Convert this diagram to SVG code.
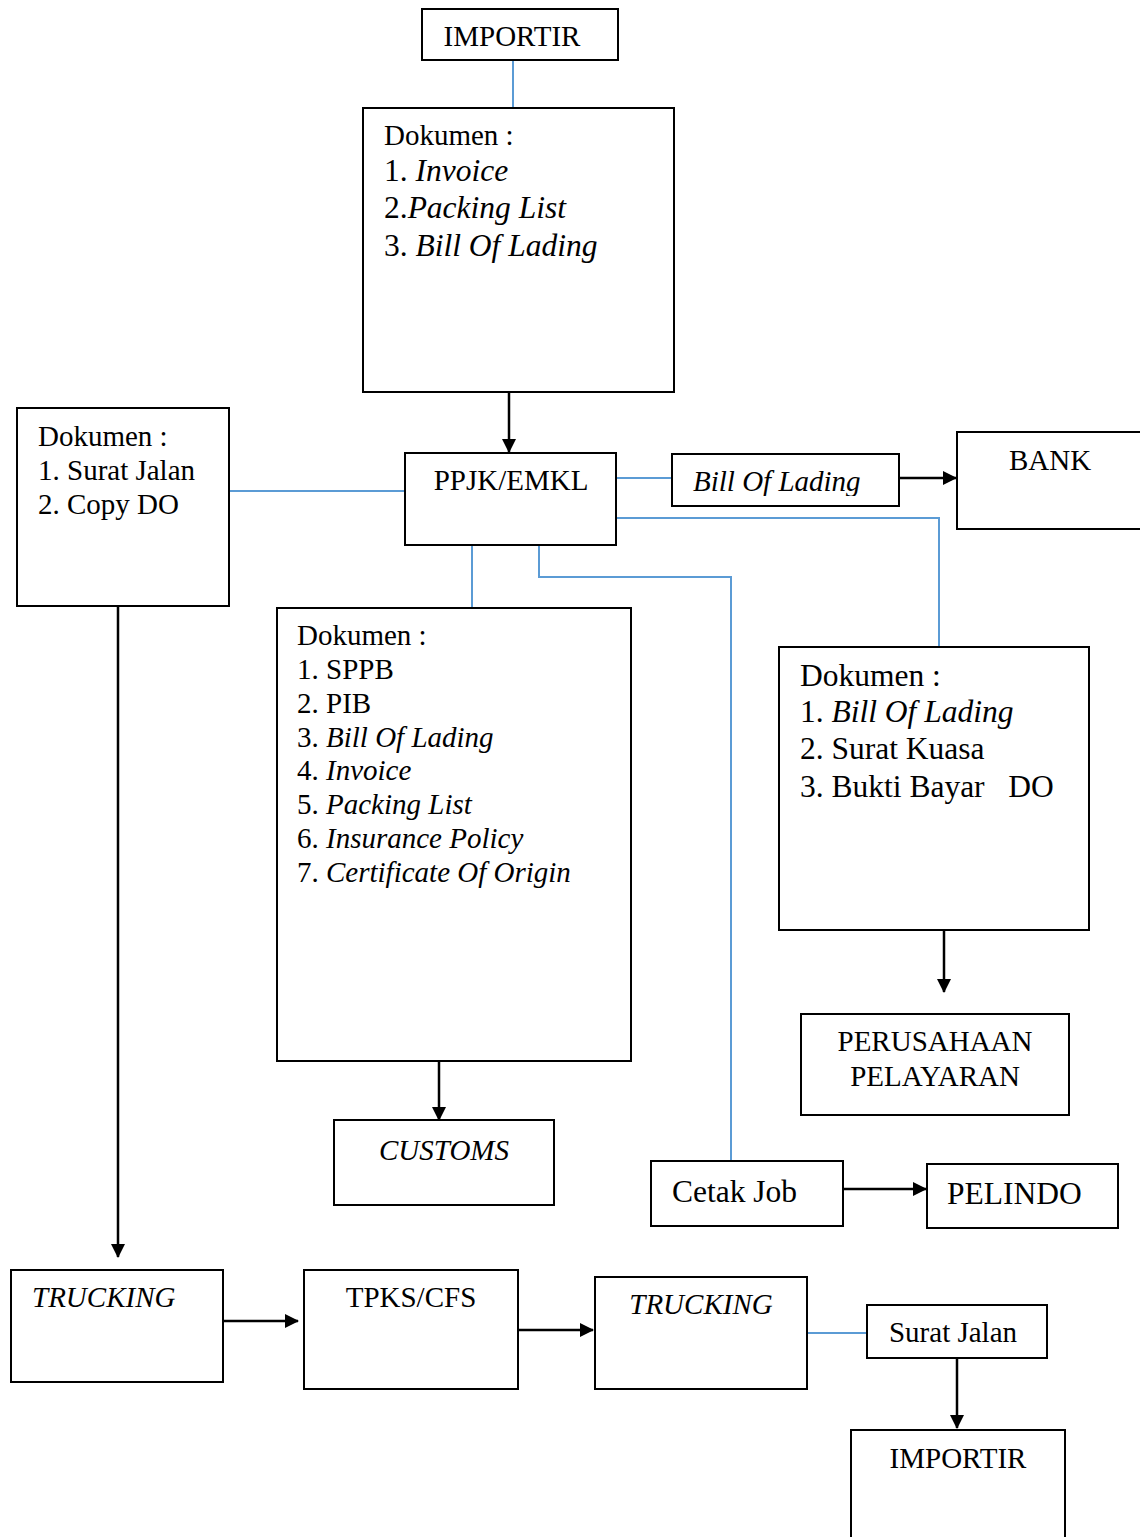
<svg xmlns="http://www.w3.org/2000/svg" width="1140" height="1537" viewBox="0 0 1140 1537">
<style>
.box{fill:#fff;stroke:#000;stroke-width:2}
.t{font-family:"Liberation Serif","Times New Roman",serif;font-size:29px;fill:#000}
.i{font-style:italic}
.big{font-size:31.5px}
.blue{fill:none;stroke:#5b9bd5;stroke-width:2}
.arr{fill:none;stroke:#000;stroke-width:2.5}
</style>
<defs>
<marker id="ah" markerWidth="10" markerHeight="10" refX="8" refY="5" orient="auto" markerUnits="userSpaceOnUse" viewBox="0 0 10 10">
<path d="M0,0 L10,5 L0,10 z" fill="#000"/>
</marker>
<marker id="ahb" markerWidth="14" markerHeight="14" refX="13" refY="7" orient="auto" markerUnits="userSpaceOnUse" viewBox="0 0 14 14">
<path d="M0,0 L14,7 L0,14 z" fill="#000"/>
</marker>
<clipPath id="bolclip"><rect x="672" y="454" width="227" height="42"/></clipPath>
</defs>
<rect width="1140" height="1537" fill="#fff"/>

<g id="connectors">
<path class="blue" d="M513,60 V108"/>
<path class="arr" d="M509,392 V452" marker-end="url(#ahb)"/>
<path class="blue" d="M229,491 H405"/>
<path class="blue" d="M616,478 H672"/>
<path class="arr" d="M899,478 H956" marker-end="url(#ahb)"/>
<path class="blue" d="M616,518 H939 V647"/>
<path class="arr" d="M944,930 V992" marker-end="url(#ahb)"/>
<path class="blue" d="M539,545 V577 H731 V1161"/>
<path class="arr" d="M843,1189 H926" marker-end="url(#ahb)"/>
<path class="blue" d="M472,545 V607"/>
<path class="arr" d="M439,1061 V1120" marker-end="url(#ahb)"/>
<path class="arr" d="M118,606 V1257" marker-end="url(#ahb)"/>
<path class="arr" d="M223,1321 H298" marker-end="url(#ahb)"/>
<path class="arr" d="M518,1330 H593" marker-end="url(#ahb)"/>
<path class="blue" d="M807,1333 H867"/>
<path class="arr" d="M957,1358 V1428" marker-end="url(#ahb)"/>
</g>

<g id="importir-top">
<rect class="box" x="422" y="9" width="196" height="51"/>
<text class="t" x="512" y="46" text-anchor="middle">IMPORTIR</text>
</g>

<g id="dok-top">
<rect class="box" x="363" y="108" width="311" height="284"/>
<text class="t" x="384" y="145">Dokumen :</text>
<text class="t big" x="384" y="181">1. <tspan class="i">Invoice</tspan></text>
<text class="t big" x="384" y="218">2.<tspan class="i">Packing List</tspan></text>
<text class="t big" x="384" y="256">3. <tspan class="i">Bill Of Lading</tspan></text>
</g>

<g id="dok-left">
<rect class="box" x="17" y="408" width="212" height="198"/>
<text class="t" x="38" y="446">Dokumen :</text>
<text class="t" x="38" y="480">1. Surat Jalan</text>
<text class="t" x="38" y="514">2. Copy DO</text>
</g>

<g id="ppjk">
<rect class="box" x="405" y="453" width="211" height="92"/>
<text class="t" x="511" y="490" text-anchor="middle">PPJK/EMKL</text>
</g>

<g id="bol">
<rect class="box" x="672" y="454" width="227" height="52"/>
<text class="t i" x="693" y="491" clip-path="url(#bolclip)">Bill Of Lading</text>
</g>

<g id="bank">
<path class="box" d="M1141,432 H957 V529 H1141"/>
<text class="t" x="1050" y="470" text-anchor="middle">BANK</text>
</g>

<g id="dok-mid">
<rect class="box" x="277" y="608" width="354" height="453"/>
<text class="t" x="297" y="645">Dokumen :</text>
<text class="t" x="297" y="679">1. SPPB</text>
<text class="t" x="297" y="713">2. PIB</text>
<text class="t" x="297" y="747">3. <tspan class="i">Bill Of Lading</tspan></text>
<text class="t" x="297" y="780">4. <tspan class="i">Invoice</tspan></text>
<text class="t" x="297" y="814">5. <tspan class="i">Packing List</tspan></text>
<text class="t" x="297" y="848">6. <tspan class="i">Insurance Policy</tspan></text>
<text class="t" x="297" y="882">7. <tspan class="i">Certificate Of Origin</tspan></text>
</g>

<g id="dok-right">
<rect class="box" x="779" y="647" width="310" height="283"/>
<text class="t big" x="800" y="686">Dokumen :</text>
<text class="t big" x="800" y="722">1. <tspan class="i">Bill Of Lading</tspan></text>
<text class="t big" x="800" y="759">2. Surat Kuasa</text>
<text class="t big" x="800" y="797" xml:space="preserve">3. Bukti Bayar   DO</text>
</g>

<g id="pelayaran">
<rect class="box" x="801" y="1014" width="268" height="101"/>
<text class="t" x="935" y="1051" text-anchor="middle">PERUSAHAAN</text>
<text class="t" x="935" y="1086" text-anchor="middle">PELAYARAN</text>
</g>

<g id="customs">
<rect class="box" x="334" y="1120" width="220" height="85"/>
<text class="t i" x="444" y="1160" text-anchor="middle">CUSTOMS</text>
</g>

<g id="cetak">
<rect class="box" x="651" y="1161" width="192" height="65"/>
<text class="t big" x="672" y="1202">Cetak Job</text>
</g>

<g id="pelindo">
<rect class="box" x="927" y="1164" width="191" height="64"/>
<text class="t big" x="947" y="1204">PELINDO</text>
</g>

<g id="trucking1">
<rect class="box" x="11" y="1270" width="212" height="112"/>
<text class="t i" x="32" y="1307">TRUCKING</text>
</g>

<g id="tpks">
<rect class="box" x="304" y="1270" width="214" height="119"/>
<text class="t" x="411" y="1307" text-anchor="middle">TPKS/CFS</text>
</g>

<g id="trucking2">
<rect class="box" x="595" y="1277" width="212" height="112"/>
<text class="t i" x="701" y="1314" text-anchor="middle">TRUCKING</text>
</g>

<g id="suratjalan">
<rect class="box" x="867" y="1305" width="180" height="53"/>
<text class="t" x="953" y="1342" text-anchor="middle">Surat Jalan</text>
</g>

<g id="importir-bottom">
<path class="box" d="M851,1538 V1430 H1065 V1538"/>
<text class="t" x="958" y="1468" text-anchor="middle">IMPORTIR</text>
</g>
</svg>
